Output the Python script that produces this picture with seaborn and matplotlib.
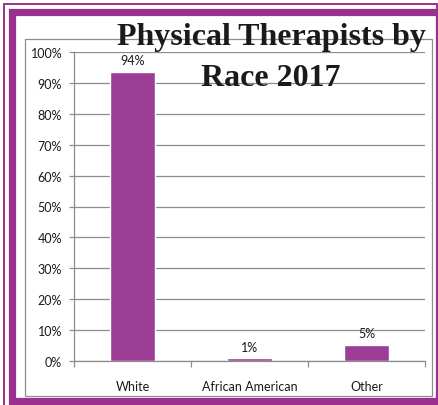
import matplotlib
matplotlib.use("Agg")
import matplotlib.pyplot as plt
from matplotlib.patches import Rectangle
from matplotlib.ticker import FixedLocator, PercentFormatter
import seaborn as sns
import pandas as pd

categories = ["White", "African American", "Other"]
values = [0.936, 0.009, 0.052]
value_labels = ["94%", "1%", "5%"]
y_ticks = [0.0, 0.1, 0.2, 0.3, 0.4, 0.5, 0.6, 0.7, 0.8, 0.9, 1.0]
title_lines = ["Physical Therapists by", "Race 2017"]

W, H = 439, 406
sns.set_theme(style="white")
plt.rcParams['font.family'] = ['Lato', 'DejaVu Sans']

fig = plt.figure(figsize=(W / 100, H / 100), dpi=100)
fig.patch.set_facecolor("white")

def px_rect(x0, y0, x1, y1, **kw):
    r = Rectangle((x0 / W, 1 - y1 / H), (x1 - x0) / W, (y1 - y0) / H,
                  transform=fig.transFigure, fill=False, **kw)
    fig.add_artist(r)

frame_purple = "#9A2F8F"
# outer thin line
px_rect(4, 5, 437, 412, edgecolor=frame_purple, linewidth=1.4)
# thick frame
px_rect(12.5, 13, 439, 401.5, edgecolor=frame_purple, linewidth=5.2)
# chart border
px_rect(25.5, 39.5, 432.5, 397, edgecolor="#8C8C8C", linewidth=0.9)

ax = fig.add_axes([74 / W, 1 - 362 / H, 351 / W, 309 / H])
df = pd.DataFrame({"cat": categories, "val": values})
sns.barplot(data=df, x="cat", y="val", color="#9C3D98", saturation=1,
            width=0.39, ax=ax)

ax.set_ylim(0, 1.0)
ax.set_xlim(-0.5, 2.5)
ax.yaxis.set_major_locator(FixedLocator(y_ticks))
ax.yaxis.set_major_formatter(PercentFormatter(1.0, decimals=0))
ax.grid(axis="y", color="#8C8C8C", linewidth=0.9)
ax.set_axisbelow(True)
ax.set_xlabel("")
ax.set_ylabel("")
for s in ["top", "right"]:
    ax.spines[s].set_visible(False)
for s in ["left", "bottom"]:
    ax.spines[s].set_color("#8C8C8C")
    ax.spines[s].set_linewidth(0.9)

ax.tick_params(axis="y", which="major", length=3.5, width=0.9, color="#8C8C8C",
               pad=5, labelsize=9, labelcolor="#1a1a1a", left=True)
ax.tick_params(axis="x", which="major", length=0, pad=14, labelsize=9,
               labelcolor="#1a1a1a")
ax.xaxis.set_minor_locator(FixedLocator([-0.5, 0.5, 1.5, 2.5]))
ax.tick_params(axis="x", which="minor", length=4, width=0.9, color="#8C8C8C",
               bottom=True)

for i, (v, lab) in enumerate(zip(values, value_labels)):
    ax.annotate(lab, (i, v), xytext=(0, 4), textcoords="offset points",
                ha="center", va="bottom", fontsize=9, color="#1a1a1a")

for line, base in zip(title_lines, [45, 86]):
    fig.text(271 / W, 1 - base / H, line, ha="center", va="baseline",
             fontsize=23, fontweight="bold",
             family=["Liberation Serif", "DejaVu Serif"], color="#1a1a1a")

fig.savefig("out.png", dpi=100, facecolor="white")
